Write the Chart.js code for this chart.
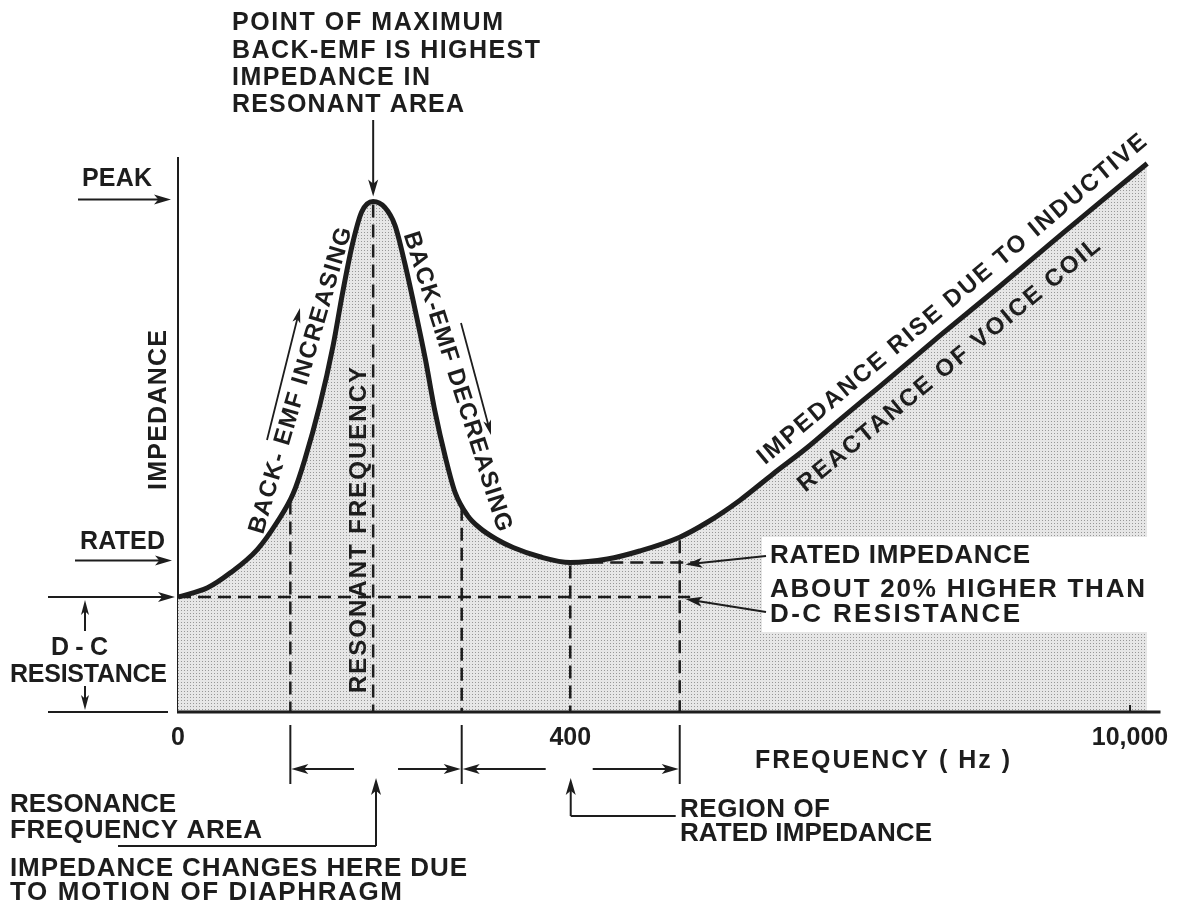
<!DOCTYPE html>
<html>
<head>
<meta charset="utf-8">
<script src="https://cdn.jsdelivr.net/npm/chart.js@4.4.1/dist/chart.umd.min.js"></script>
<style>
  html, body { margin: 0; padding: 0; background: #fff; }
  #wrap { width: 1191px; height: 906px; }
</style>
</head>
<body>
<div id="wrap"><canvas id="c" width="1191" height="906"></canvas></div>
<script>
// schematic frequency axis: 0 = origin, 100 = the 10,000 Hz tick (not to scale)
const freqPos = [0, 3.1, 5.5, 8.3, 10.4, 12.1, 13.3, 14.9, 16.3, 17.3, 18.3, 19.3, 20.5, 21.7, 22.8, 23.8, 24.9,
  26.0, 27.0, 28.1, 29.1, 30.4, 31.7, 33.5, 35.2, 38.0, 41.2, 45.1, 48.5, 52.7, 55.6, 59.0, 62.5, 66.1, 69.5,
  73.7, 80.0, 86.3, 92.6, 96.8, 101.8];
// impedance relative to the d-c resistance (= 1)
const impedance = [1.00, 1.08, 1.21, 1.41, 1.65, 1.90, 2.19, 2.67, 3.19, 3.65, 4.06, 4.35, 4.44, 4.39, 4.23, 3.91, 3.50,
  3.06, 2.61, 2.21, 1.91, 1.71, 1.60, 1.50, 1.43, 1.35, 1.30, 1.33, 1.40, 1.52, 1.65, 1.84, 2.07, 2.30, 2.54,
  2.83, 3.27, 3.70, 4.14, 4.43, 4.77];
const xTickPos = [0, 41.2, 100];
const xTickLabels = ['0', '400', '10,000'];
// dashed verticals: start / resonance / end of resonance area, rated point, end of rated region
const regionMarks = [11.8, 20.5, 29.8, 41.2, 52.7];

const INK = '#1d1d1d';
const FONT = '"Liberation Sans", Arial, sans-serif';

function stipple(ctx) {
  const c = document.createElement('canvas');
  c.width = 3; c.height = 3;
  const g = c.getContext('2d');
  g.fillStyle = '#e6e6e6'; g.fillRect(0, 0, 3, 3);
  g.fillStyle = '#979797'; g.fillRect(1, 1, 1, 1);
  return ctx.createPattern(c, 'repeat');
}

// value of the curve at x (straight interpolation between read points)
function zAt(x) {
  for (let i = 1; i < freqPos.length; i++) {
    if (x <= freqPos[i]) {
      const t = (x - freqPos[i - 1]) / (freqPos[i] - freqPos[i - 1]);
      return impedance[i - 1] + t * (impedance[i] - impedance[i - 1]);
    }
  }
  return impedance[impedance.length - 1];
}

function txt(ctx, s, x, y, o = {}) {
  const size = o.size || 25;
  ctx.save();
  ctx.font = `bold ${size}px ${FONT}`;
  ctx.fillStyle = INK;
  ctx.textBaseline = 'alphabetic';
  ctx.textAlign = 'left';
  ctx.translate(x, y);
  if (o.rot) ctx.rotate(o.rot * Math.PI / 180);
  let w = ctx.measureText(s).width;
  if (o.w) {
    if ('letterSpacing' in ctx) {
      ctx.letterSpacing = ((o.w - w) / Math.max(1, s.length - 1)) + 'px';
    } else {
      ctx.scale(o.w / w, 1);
    }
    w = o.w;
  }
  const dx = o.center ? -w / 2 : 0;
  const dy = o.mid ? size * 0.358 : 0;
  ctx.fillText(s, dx, dy);
  ctx.restore();
}

function seg(ctx, x1, y1, x2, y2, lw = 2, dash = null) {
  ctx.save();
  ctx.strokeStyle = INK;
  ctx.lineWidth = lw;
  if (dash) ctx.setLineDash(dash);
  ctx.beginPath(); ctx.moveTo(x1, y1); ctx.lineTo(x2, y2); ctx.stroke();
  ctx.restore();
}

function arrow(ctx, x1, y1, x2, y2, lw = 2, L = 17, W = 5) {
  const a = Math.atan2(y2 - y1, x2 - x1), c = Math.cos(a), s = Math.sin(a);
  seg(ctx, x1, y1, x2 - c * L * 0.7, y2 - s * L * 0.7, lw);
  ctx.save();
  ctx.fillStyle = INK;
  ctx.beginPath();
  ctx.moveTo(x2, y2);
  ctx.lineTo(x2 - c * L + s * W, y2 - s * L - c * W);
  ctx.lineTo(x2 - c * L * 0.75, y2 - s * L * 0.75);
  ctx.lineTo(x2 - c * L - s * W, y2 - s * L + c * W);
  ctx.closePath();
  ctx.fill();
  ctx.restore();
}

const annotations = {
  id: 'annotations',
  beforeDatasetsDraw(chart) {
    const { ctx } = chart;
    const xs = chart.scales.x, ys = chart.scales.y;
    seg(ctx, xs.getPixelForValue(0), ys.getPixelForValue(0), xs.getPixelForValue(0), chart.chartArea.top + 20, 2);
  },
  afterDatasetsDraw(chart) {
    const { ctx } = chart;
    const xs = chart.scales.x, ys = chart.scales.y;
    const X = v => xs.getPixelForValue(v), Y = v => ys.getPixelForValue(v);
    const y0 = Y(0);
    const dc = impedance[0];
    // resonance peak = highest point inside the resonance area
    const resVals = impedance.filter((v, i) => freqPos[i] < regionMarks[2]);
    const peak = Math.max(...resVals);
    const peakIdx = impedance.indexOf(peak);
    const peakX = freqPos[peakIdx];
    const rated = Math.min(...impedance.slice(peakIdx));
    const ratedX = freqPos[impedance.indexOf(rated)];
    const dash = [13, 7];

    // x axis + ticks
    seg(ctx, X(0) - 1, y0, chart.chartArea.right, y0, 3);
    seg(ctx, X(100), y0 - 7, X(100), y0, 2);
    xTickLabels.forEach((t, i) => txt(ctx, t, X(xTickPos[i]), y0 + 33, { center: true, size: 25 }));

    // dashed guide lines
    regionMarks.forEach(m => seg(ctx, X(m), Y(zAt(m)) + 3, X(m), y0, 2.5, dash));
    seg(ctx, X(0), Y(dc), X(53.8), Y(dc), 2.5, dash);
    seg(ctx, X(ratedX), Y(rated), X(54.2), Y(rated), 2.5, dash);

    // white field behind the right-hand note
    ctx.fillStyle = '#fff';
    ctx.fillRect(762, 537, 400, 95);
    txt(ctx, 'RATED IMPEDANCE', 770, 563, { w: 260, size: 26 });
    txt(ctx, 'ABOUT 20% HIGHER THAN', 770, 597, { w: 375, size: 26 });
    txt(ctx, 'D-C RESISTANCE', 770, 622, { w: 250, size: 26 });
    arrow(ctx, 766, 556, X(53.3), Y(rated) + 2, 2);
    arrow(ctx, 766, 612, X(53.3), Y(dc) + 2, 2);

    // top note
    txt(ctx, 'POINT OF MAXIMUM', 232, 30, { w: 271 });
    txt(ctx, 'BACK-EMF IS HIGHEST', 232, 58, { w: 308 });
    txt(ctx, 'IMPEDANCE IN', 232, 85, { w: 198 });
    txt(ctx, 'RESONANT AREA', 232, 112, { w: 232 });
    arrow(ctx, X(peakX), 120, X(peakX), Y(peak) - 5, 2);

    // left level markers
    txt(ctx, 'PEAK', 82, 186, { w: 70 });
    arrow(ctx, 78, Y(peak) - 2, X(0) - 7, Y(peak) - 2, 2);
    txt(ctx, 'RATED', 80, 549, { w: 85 });
    arrow(ctx, 75, Y(rated) - 2, X(0) - 6, Y(rated) - 2, 2);
    arrow(ctx, 48, Y(dc), X(0) - 3, Y(dc), 2);
    seg(ctx, 48, y0, X(0) - 10, y0, 2);
    arrow(ctx, 85, 631, 85, Y(dc) + 3, 2, 15, 4);
    arrow(ctx, 85, 686, 85, y0 - 2, 2, 15, 4);
    txt(ctx, 'D-C', 51, 655, { w: 57 });
    txt(ctx, 'RESISTANCE', 10, 682, { w: 157 });
    txt(ctx, 'IMPEDANCE', 157, 410, { rot: -90, w: 160, center: true, mid: true });

    // text along the curve
    txt(ctx, 'BACK- EMF INCREASING', 299, 380, { rot: -73.8, w: 318, center: true, mid: true, size: 24 });
    arrow(ctx, 267, 440, 300, 308, 1.8, 15, 4);
    txt(ctx, 'BACK-EMF DECREASING', 459, 381, { rot: 72.4, w: 313, center: true, mid: true, size: 24 });
    arrow(ctx, 461, 323, 491, 435, 1.8, 15, 4);
    txt(ctx, 'RESONANT FREQUENCY', 357, 530, { rot: -90, w: 326, center: true, mid: true, size: 24 });
    txt(ctx, 'IMPEDANCE RISE DUE TO INDUCTIVE', 951, 298, { rot: -40, w: 500, center: true, mid: true, size: 24 });
    txt(ctx, 'REACTANCE OF VOICE COIL', 948, 364, { rot: -39.5, w: 384, center: true, mid: true, size: 24 });

    // frequency axis title
    txt(ctx, 'FREQUENCY ( Hz )', 755, 768, { w: 255 });

    // dimension lines under the axis
    const a = X(regionMarks[0]), b = X(regionMarks[2]), c = X(regionMarks[4]);
    const dy = y0 + 57;
    [a, b, c].forEach(x => seg(ctx, x, y0 + 13, x, y0 + 72, 2));
    const m1 = (a + b) / 2, m2 = (b + c) / 2;
    arrow(ctx, m1 - 22, dy, a + 1, dy, 2);
    arrow(ctx, m1 + 22, dy, b - 1, dy, 2);
    arrow(ctx, m2 - 25, dy, b + 1, dy, 2);
    arrow(ctx, m2 + 22, dy, c - 1, dy, 2);
    seg(ctx, 118, 846, m1, 846, 2);
    arrow(ctx, m1, 846, m1, dy + 9, 2);
    seg(ctx, m2, 816, c - 4, 816, 2);
    arrow(ctx, m2, 816, m2, dy + 9, 2);

    txt(ctx, 'RESONANCE', 10, 812, { w: 166, size: 26 });
    txt(ctx, 'FREQUENCY AREA', 10, 838, { w: 252, size: 26 });
    txt(ctx, 'IMPEDANCE CHANGES HERE DUE', 10, 876, { w: 457, size: 26 });
    txt(ctx, 'TO MOTION OF DIAPHRAGM', 10, 900, { w: 392, size: 26 });
    txt(ctx, 'REGION OF', 680, 817, { w: 150, size: 26 });
    txt(ctx, 'RATED IMPEDANCE', 680, 841, { w: 252, size: 26 });
  }
};

const canvas = document.getElementById('c');
const ctx = canvas.getContext('2d');

new Chart(ctx, {
  type: 'line',
  data: {
    datasets: [{
      data: freqPos.map((x, i) => ({ x, y: impedance[i] })),
      borderColor: INK,
      borderWidth: 5,
      backgroundColor: stipple(ctx),
      fill: 'origin',
      pointRadius: 0,
      cubicInterpolationMode: 'monotone',
    }],
  },
  options: {
    responsive: false,
    animation: false,
    layout: { padding: { left: 178, right: 30.5, top: 137, bottom: 194 } },
    scales: {
      x: { type: 'linear', min: 0, max: 103.2, display: false },
      y: { min: 0, max: 5, display: false },
    },
    plugins: { legend: { display: false }, tooltip: { enabled: false } },
  },
  plugins: [annotations],
});
</script>
</body>
</html>
